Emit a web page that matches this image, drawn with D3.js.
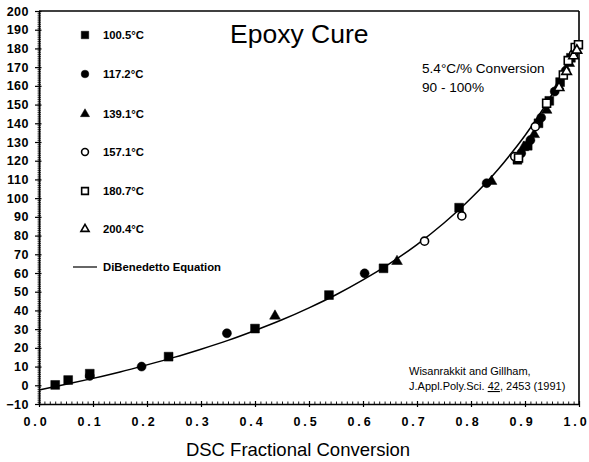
<!DOCTYPE html>
<html>
<head>
<meta charset="utf-8">
<script src="https://cdn.jsdelivr.net/npm/d3@7"></script>
<style>
  html, body { margin: 0; padding: 0; background: #fff; }
  svg { display: block; font-family: "Liberation Sans", Arial, Helvetica, sans-serif; }
</style>
</head>
<body>
<svg id="chart" width="589" height="462"></svg>
<script>
// Glass transition temperature vs. DSC conversion for isothermal cures
const seriesNames = ["100.5°C", "117.2°C", "139.1°C", "157.1°C", "180.7°C", "200.4°C"];
const seriesShapes = ["square", "circle", "triangle", "circle", "square", "triangle"];
const seriesFilled = [true, true, true, false, false, false];

const cure1005 = [[0.030, 0.2], [0.054, 2.8], [0.094, 6.2], [0.240, 15.3], [0.400, 30.3], [0.537, 48.2],
  [0.638, 62.5], [0.778, 94.9], [0.886, 120.5], [0.905, 128], [0.925, 140], [0.945, 152], [0.965, 162], [0.985, 175]];
const cure1172 = [[0.094, 5.0], [0.190, 10.0], [0.348, 27.8], [0.603, 59.8], [0.829, 108], [0.893, 124],
  [0.910, 131], [0.930, 143], [0.955, 157], [0.975, 168]];
const cure1391 = [[0.437, 37.0], [0.663, 66.2], [0.838, 109], [0.897, 127], [0.917, 134], [0.940, 147],
  [0.962, 160], [0.982, 172]];
const cure1571 = [[0.714, 77.0], [0.783, 90.5], [0.881, 122.2], [0.919, 138.2], [0.990, 177]];
const cure1807 = [[0.888, 121.5], [0.940, 150.7], [0.971, 165.8], [0.980, 173.5], [0.993, 180.5], [0.999, 182]];
const cure2004 = [[0.963, 159], [0.977, 167.6], [0.990, 176], [0.996, 179]];
const seriesValues = [cure1005, cure1172, cure1391, cure1571, cure1807, cure2004];

// DiBenedetto equation curve
const curveX = [0, 0.05, 0.1, 0.15, 0.2, 0.25, 0.3, 0.35, 0.4, 0.45, 0.5, 0.55, 0.6, 0.65, 0.7, 0.75,
  0.8, 0.85, 0.875, 0.9, 0.925, 0.95, 0.975, 1.0];
const curveTg = [-2.5, 0.5, 3.7, 7.1, 10.9, 14.9, 19.3, 24.0, 29.3, 35.0, 41.4, 48.4, 56.3, 65.2, 75.2, 86.7,
  99.9, 115.3, 124.1, 133.5, 143.9, 155.4, 168.0, 182.0];

const xTickValues = [0, 0.1, 0.2, 0.3, 0.4, 0.5, 0.6, 0.7, 0.8, 0.9, 1.0];
const xTickLabels = ["0.0", "0.1", "0.2", "0.3", "0.4", "0.5", "0.6", "0.7", "0.8", "0.9", "1.0"];
const yTickValues = [-10, 0, 10, 20, 30, 40, 50, 60, 70, 80, 90, 100, 110, 120, 130, 140, 150, 160, 170, 180, 190, 200];

const svg = d3.select("#chart");
const x = d3.scaleLinear().domain([0, 1]).range([39, 579]);
const y = d3.scaleLinear().domain([-10, 200]).range([404, 11]);

// Frame: top and right border
svg.append("line").attr("x1", x(0)).attr("x2", x(1)).attr("y1", y(200)).attr("y2", y(200))
  .attr("stroke", "#000").attr("stroke-width", 1.6);
svg.append("line").attr("x1", x(1)).attr("x2", x(1)).attr("y1", y(200)).attr("y2", y(-10))
  .attr("stroke", "#000").attr("stroke-width", 1.6);

// X axis: minor ticks every 0.01 pointing inward
const xMinor = d3.range(0, 101).map(i => i / 100);
svg.append("g").attr("transform", `translate(0,${y(-10)})`)
  .call(d3.axisBottom(x).tickValues(xMinor).tickSizeInner(-2.5).tickSizeOuter(0).tickFormat(""))
  .call(g => g.select(".domain").attr("stroke-width", 1.6))
  .call(g => g.selectAll(".tick line").attr("stroke-width", 0.9));
const gx = svg.append("g").attr("transform", `translate(0,${y(-10)})`)
  .call(d3.axisBottom(x).tickValues(xTickValues).tickSizeInner(3).tickSizeOuter(0).tickPadding(10)
    .tickFormat((d, i) => xTickLabels[i]));
gx.select(".domain").remove();
gx.selectAll(".tick line").attr("y1", -3).attr("stroke-width", 1.2);
gx.selectAll(".tick text").attr("font-size", 12.5).attr("font-weight", "bold")
  .attr("letter-spacing", "2.8px").attr("dx", -3).attr("fill", "#000");

// Y axis: minor ticks every 1 unit
const yMinor = d3.range(-10, 201);
svg.append("g").attr("transform", `translate(${x(0)},0)`)
  .call(d3.axisLeft(y).tickValues(yMinor).tickSizeInner(2).tickSizeOuter(0).tickFormat(""))
  .call(g => g.select(".domain").attr("stroke-width", 1.6))
  .call(g => g.selectAll(".tick line").attr("x2", 2).attr("x1", -1.5).attr("stroke-width", 0.7));
const gy = svg.append("g").attr("transform", `translate(${x(0)},0)`)
  .call(d3.axisLeft(y).tickValues(yTickValues).tickSizeInner(4).tickSizeOuter(0).tickPadding(6));
gy.select(".domain").remove();
gy.selectAll(".tick line").attr("x2", 2.5).attr("x1", -4).attr("stroke-width", 1.2);
gy.selectAll(".tick text").attr("font-size", 12.5).attr("font-weight", "bold")
  .attr("letter-spacing", "0.5px").attr("fill", "#000");

// Equation curve
const curvePts = curveX.map((v, i) => [v, curveTg[i]]);
svg.append("path").datum(curvePts)
  .attr("d", d3.line().x(d => x(d[0])).y(d => y(d[1])).curve(d3.curveMonotoneX))
  .attr("fill", "none").attr("stroke", "#000").attr("stroke-width", 1.5);

const symbolType = { square: d3.symbolSquare, circle: d3.symbolCircle, triangle: d3.symbolTriangle };
const symbolSize = { square: 78, circle: 64, triangle: 50 };

function drawMarker(g, shape, filled, scale) {
  const size = symbolSize[shape] * scale * (filled ? 1 : 0.8);
  g.append("path")
    .attr("d", d3.symbol().type(symbolType[shape]).size(size)())
    .attr("fill", filled ? "#000" : "#fff")
    .attr("stroke", "#000")
    .attr("stroke-width", filled ? 0.5 : 1.6);
}

// Points: filled series first, open series on top
seriesValues.forEach((vals, si) => {
  vals.forEach(d => {
    const g = svg.append("g").attr("transform", `translate(${x(d[0])},${y(d[1])})`);
    drawMarker(g, seriesShapes[si], seriesFilled[si], 1);
  });
});

// Legend
const legendRowY = [35, 74, 114, 152, 191, 229];
seriesNames.forEach((name, i) => {
  const g = svg.append("g").attr("transform", `translate(85,${legendRowY[i]})`);
  drawMarker(g, seriesShapes[i], seriesFilled[i], 0.72);
  svg.append("text").attr("x", 103).attr("y", legendRowY[i] + 4)
    .attr("font-size", 11.3).attr("font-weight", "bold").text(name);
});
svg.append("line").attr("x1", 73).attr("x2", 97).attr("y1", 267).attr("y2", 267)
  .attr("stroke", "#000").attr("stroke-width", 1.2);
svg.append("text").attr("x", 103).attr("y", 271)
  .attr("font-size", 11.3).attr("font-weight", "bold").text("DiBenedetto Equation");

// Title and annotations
svg.append("text").attr("x", 230).attr("y", 43).attr("font-size", 26.5).text("Epoxy Cure");
svg.append("text").attr("x", 422).attr("y", 73).attr("font-size", 13.6).text("5.4°C/% Conversion");
svg.append("text").attr("x", 422).attr("y", 92).attr("font-size", 13.6).text("90 - 100%");
svg.append("text").attr("x", 409).attr("y", 375).attr("font-size", 11).text("Wisanrakkit and Gillham,");
const cite = svg.append("text").attr("x", 409).attr("y", 390).attr("font-size", 11);
cite.append("tspan").text("J.Appl.Poly.Sci.  ");
cite.append("tspan").attr("text-decoration", "underline").text("42");
cite.append("tspan").text(", 2453 (1991)");

// X axis title
svg.append("text").attr("x", 298).attr("y", 456).attr("text-anchor", "middle")
  .attr("font-size", 18.5).text("DSC Fractional Conversion");
</script>
</body>
</html>
